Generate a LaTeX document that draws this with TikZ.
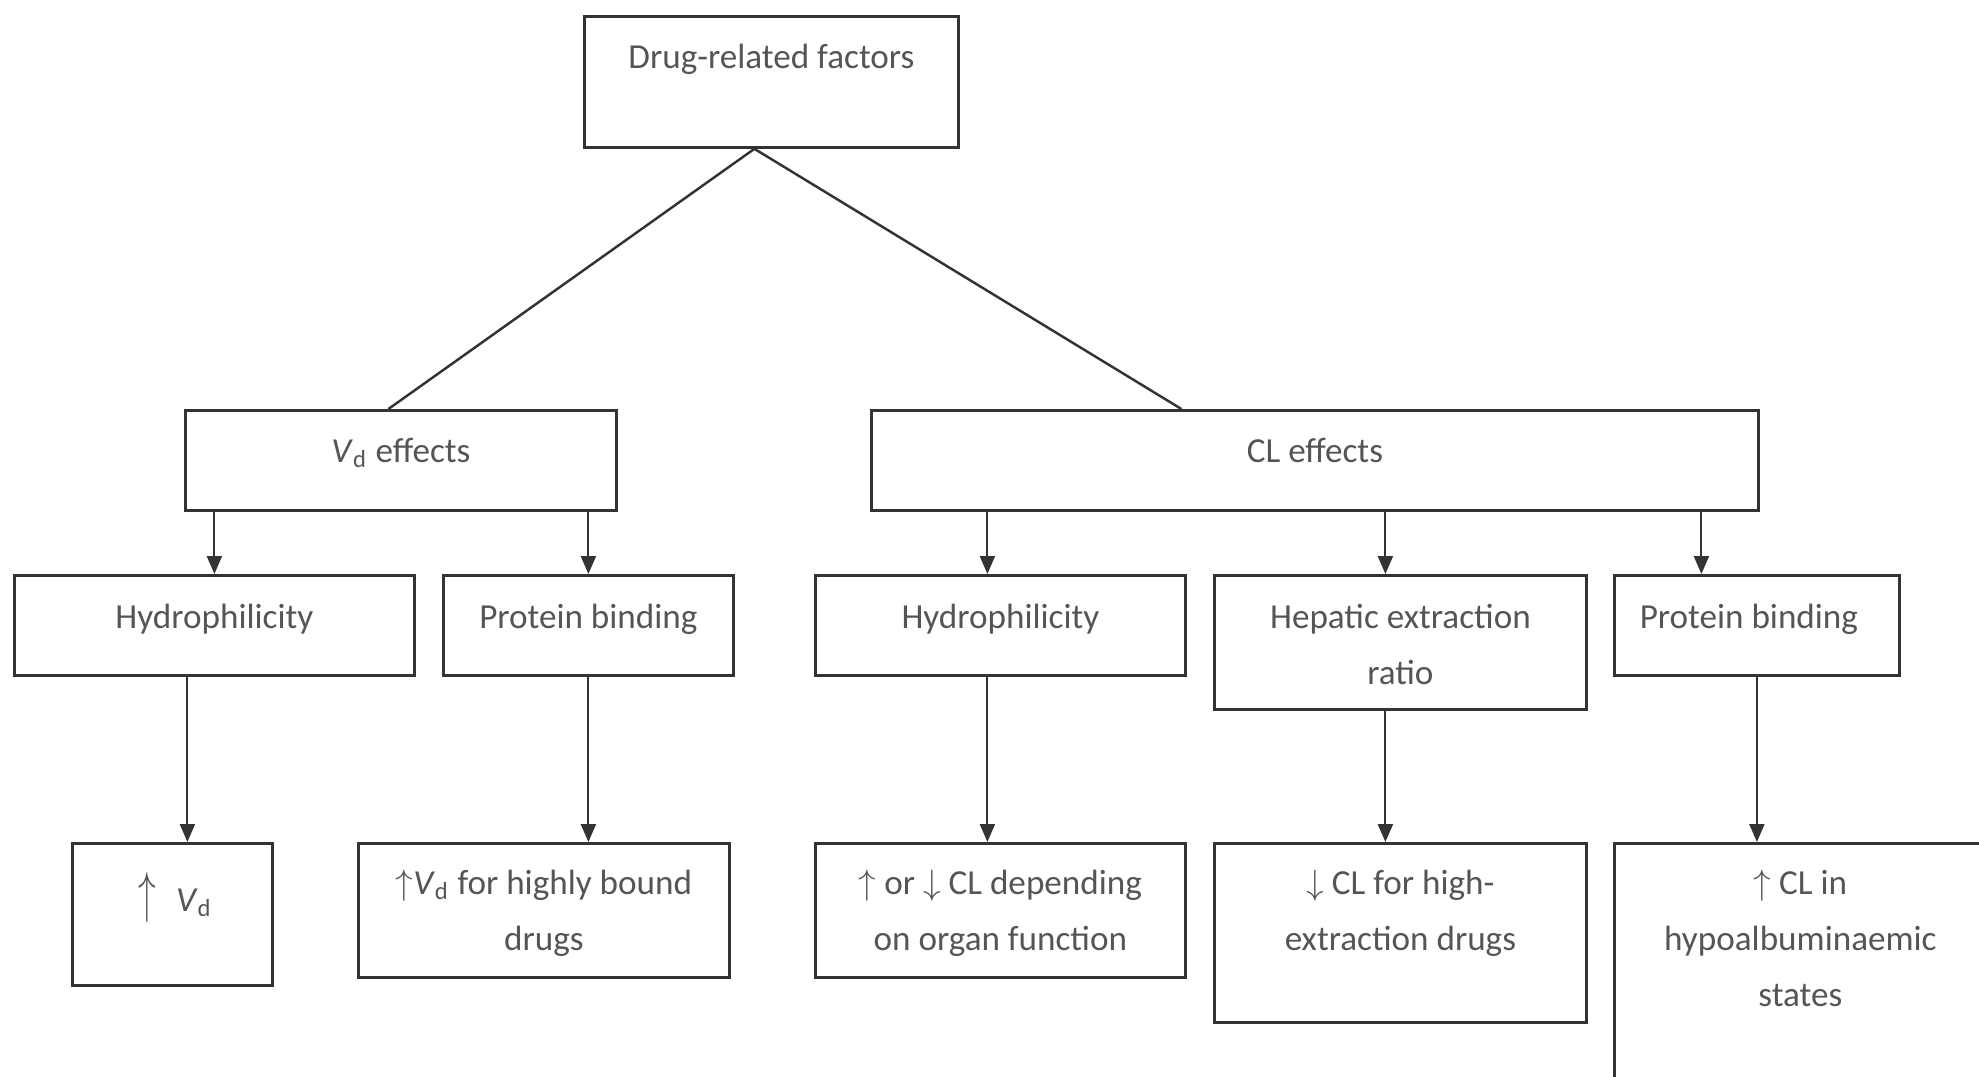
\documentclass[tikz,border=0pt]{standalone}
\usepackage{fontspec}
\usepackage{graphicx}
\setmainfont{Carlito}
\usetikzlibrary{arrows.meta}
\definecolor{linegray}{HTML}{333333}
\definecolor{textgray}{HTML}{555555}
\newcommand{\Vd}{\textit{V}\textsubscript{d}}
\tikzset{
	box/.style={draw=linegray, line width=0.8pt, inner sep=0pt, anchor=north west},
	txt/.style={anchor=base, align=flush center, text width=3.6cm, inner sep=0pt, text=textgray, font=\fontsize{10}{16}\selectfont},
	arr/.style={draw=linegray, line width=0.6pt, -{Triangle[length=0.18cm,width=0.15cm]}},
	ln/.style={draw=linegray, line width=0.7pt}
}

\begin{document}
\begin{tikzpicture}
	\useasboundingbox (0,0) rectangle (19.79,-10.76);
	\clip (0,0) rectangle (19.79,-10.76);
	% boxes
	\node[box, minimum width=3.74cm, minimum height=1.31cm] (drug) at (5.83,-0.15) {};
	\node[box, minimum width=4.31cm, minimum height=1.00cm] (vd) at (1.84,-4.09) {};
	\node[box, minimum width=8.87cm, minimum height=1.00cm] (cl) at (8.70,-4.09) {};
	\node[box, minimum width=4.00cm, minimum height=1.00cm] (hydv) at (0.13,-5.74) {};
	\node[box, minimum width=2.90cm, minimum height=1.00cm] (protv) at (4.42,-5.74) {};
	\node[box, minimum width=3.70cm, minimum height=1.00cm] (hydc) at (8.14,-5.74) {};
	\node[box, minimum width=3.72cm, minimum height=1.34cm] (hep) at (12.13,-5.74) {};
	\node[box, minimum width=2.85cm, minimum height=1.00cm] (protc) at (16.13,-5.74) {};
	\node[box, minimum width=2.00cm, minimum height=1.42cm] (upvd) at (0.71,-8.42) {};
	\node[box, minimum width=3.71cm, minimum height=1.34cm] (upvdb) at (3.57,-8.42) {};
	\node[box, minimum width=3.70cm, minimum height=1.34cm] (updn) at (8.14,-8.42) {};
	\node[box, minimum width=3.72cm, minimum height=1.79cm] (dncl) at (12.13,-8.42) {};
	\node[box, minimum width=3.72cm, minimum height=2.70cm] (upcl) at (16.13,-8.42) {};
	% texts
	\node[txt] (drugt) at ([yshift=-0.53cm]drug.north) {Drug-related factors};
	\node[txt] (vdt) at ([yshift=-0.53cm]vd.north) {\Vd{} effects};
	\node[txt] (clt) at ([yshift=-0.53cm]cl.north) {CL effects};
	\node[txt] (hydvt) at ([yshift=-0.54cm]hydv.north) {Hydrophilicity};
	\node[txt] (protvt) at ([yshift=-0.54cm]protv.north) {Protein binding};
	\node[txt] (hydct) at ([yshift=-0.54cm]hydc.north) {Hydrophilicity};
	\node[txt] (hept) at ([yshift=-0.54cm]hep.north) {Hepatic extraction\\ratio};
	\node[txt] (protct) at ([xshift=-0.08cm,yshift=-0.54cm]protc.north) {Protein binding};
	\node[txt] (upvdt) at ([xshift=0.03cm,yshift=-0.69cm]upvd.north) {\scalebox{1}[1.6]{$\uparrow$}\hspace{0.2cm}\Vd};
	\node[txt] (upvdbt) at ([yshift=-0.52cm]upvdb.north) {$\uparrow$\Vd{} for highly bound\\drugs};
	\node[txt] (updnt) at ([yshift=-0.52cm]updn.north) {$\uparrow$ or $\downarrow$ CL depending\\on organ function};
	\node[txt] (dnclt) at ([yshift=-0.52cm]dncl.north) {$\downarrow$ CL for high-\\extraction drugs};
	\node[txt] (upclt) at ([yshift=-0.52cm]upcl.north) {$\uparrow$ CL in\\hypoalbuminaemic\\states};
	% connectors
	\draw[ln] ([xshift=-0.17cm]drug.south) -- ([xshift=-0.125cm]vd.north);
	\draw[ln] ([xshift=-0.17cm]drug.south) -- ([xshift=-1.335cm]cl.north);
	\draw[arr] (hydv.north |- vd.south) -- (hydv.north);
	\draw[arr] (protv.north |- vd.south) -- (protv.north);
	\draw[arr] ([xshift=-0.13cm]hydc.north |- cl.south) -- ([xshift=-0.13cm]hydc.north);
	\draw[arr] ([xshift=-0.15cm]hep.north |- cl.south) -- ([xshift=-0.15cm]hep.north);
	\draw[arr] ([xshift=-0.555cm]protc.north |- cl.south) -- ([xshift=-0.555cm]protc.north);
	\draw[arr] ([xshift=-0.27cm]hydv.south) -- ([xshift=-0.27cm]hydv.south |- upvd.north);
	\draw[arr] (protv.south) -- (protv.south |- upvdb.north);
	\draw[arr] ([xshift=-0.13cm]hydc.south) -- ([xshift=-0.13cm]hydc.south |- updn.north);
	\draw[arr] ([xshift=-0.15cm]hep.south) -- ([xshift=-0.15cm]hep.south |- dncl.north);
	\draw[arr] (protc.south) -- (protc.south |- upcl.north);
\end{tikzpicture}
\end{document}
